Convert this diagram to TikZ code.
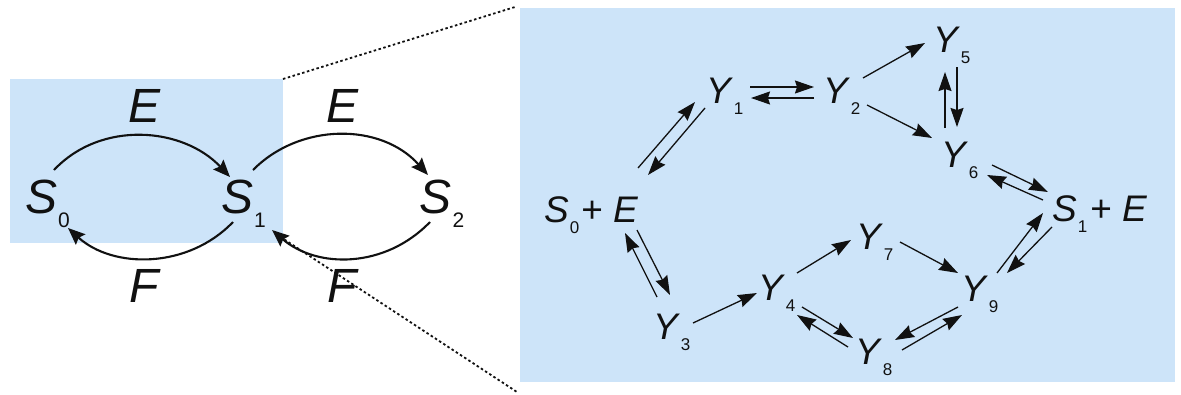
\documentclass[tikz,border=0pt]{standalone}
\usepackage{fontspec}
\setmainfont{Liberation Sans}
\usetikzlibrary{arrows.meta}
\definecolor{panel}{RGB}{205,228,249}
\definecolor{ink}{RGB}{17,17,17}
\newcommand\subL[1]{\kern1pt\raisebox{-14pt}{\fontsize{21}{21}\selectfont #1}}
\newcommand\subR[1]{\kern0.5pt\raisebox{-11pt}{\fontsize{17}{17}\selectfont #1}}
\tikzset{
  arr/.style={draw=ink, line width=1.3pt, -{Stealth[length=19pt,width=13pt,inset=2pt]}},
  larr/.style={draw=ink, line width=2.1pt, -{Stealth[length=17pt,width=14pt,inset=2.5pt]}},
  lab/.style={inner sep=0pt, text=ink, font=\fontsize{37}{37}\selectfont},
  llab/.style={inner sep=0pt, text=ink, font=\fontsize{48}{48}\selectfont},
  zoomline/.style={draw=ink, line width=1.8pt, dash pattern=on 2.5pt off 2.5pt},
}
\begin{document}
\begin{tikzpicture}[x=1pt,y=-1pt]
\useasboundingbox (0,0) rectangle (1181,394);
\fill[white] (0,0) rectangle (1181,394);
% panels
\fill[panel] (10,79) rectangle (283,243);
\fill[panel] (520,8) rectangle (1175,382);
% zoom lines
\draw[zoomline] (283,79) -- (515,7);
\draw[zoomline] (276,234) -- (517,392);
% left scheme
\node[llab] (S0) at (47.5,203.5) {\textit{S}\subL{0}};
\node[llab] (S1) at (243.5,203.5) {\textit{S}\subL{1}};
\node[llab] (S2) at (442,203.5) {\textit{S}\subL{2}};
\node[llab] (E1) at (145,106) {\textit{E}};
\node[llab] (E2) at (343,106) {\textit{E}};
\node[llab] (F1) at (145,286) {\textit{F}};
\node[llab] (F2) at (343,286) {\textit{F}};
\draw[larr] ([shift={(6.5,-33.5)}]S0.center) .. controls +(47,-50) and +(-47,-50) .. ([shift={(-13.5,-26.5)}]S1.center);
\draw[larr] ([shift={(-10.5,18.5)}]S1.center) .. controls +(-45,47) and +(45,41) .. ([shift={(20.5,24.5)}]S0.center);
\draw[larr] ([shift={(9.5,-33.5)}]S1.center) .. controls +(47,-47.5) and +(-47,-52.5) .. ([shift={(-14,-28.5)}]S2.center);
\draw[larr] ([shift={(-12,18.5)}]S2.center) .. controls +(-45,46.7) and +(45,38.7) .. ([shift={(28.5,26.5)}]S1.center);
% right scheme
\node[lab] (A) at (591.5,215.5) {\textit{S}\subR{0}\kern2pt+ \textit{E}};
\node[lab] (B) at (1100,214) {\textit{S}\subR{1}\kern3pt+ \textit{E}};
\node[lab] (Y1) at (725,96) {\textit{Y}\subR{1}};
\node[lab] (Y2) at (842,96) {\textit{Y}\subR{2}};
\node[lab] (Y3) at (672,332) {\textit{Y}\subR{3}};
\node[lab] (Y4) at (777,293) {\textit{Y}\subR{4}};
\node[lab] (Y5) at (952,45) {\textit{Y}\subR{5}};
\node[lab] (Y6) at (960,160) {\textit{Y}\subR{6}};
\node[lab] (Y7) at (875,242) {\textit{Y}\subR{7}};
\node[lab] (Y8) at (874,357) {\textit{Y}\subR{8}};
\node[lab] (Y9) at (980,294) {\textit{Y}\subR{9}};
% A <-> Y1
\draw[arr] ([shift={(46.5,-47.5)}]A.center) -- ([shift={(-30,6)}]Y1.center);
\draw[arr] ([shift={(-20,12)}]Y1.center) -- ([shift={(56.5,-40.5)}]A.center);
% A <-> Y3
\draw[arr] ([shift={(-15,-35)}]Y3.center) -- ([shift={(33.5,17.5)}]A.center);
\draw[arr] ([shift={(45.5,14.5)}]A.center) -- ([shift={(-2,-37)}]Y3.center);
% Y1 <-> Y2
\draw[arr] ([shift={(25,-9)}]Y1.center) -- ([shift={(-28,-9)}]Y2.center);
\draw[arr] ([shift={(-28,2)}]Y2.center) -- ([shift={(26,2)}]Y1.center);
% Y3 -> Y4 -> Y7
\draw[arr] ([shift={(21,-9)}]Y3.center) -- ([shift={(-20,0)}]Y4.center);
\draw[arr] ([shift={(20,-20)}]Y4.center) -- ([shift={(-24,-2)}]Y7.center);
% Y4 <-> Y8
\draw[arr] ([shift={(25,14)}]Y4.center) -- ([shift={(-21,-19)}]Y8.center);
\draw[arr] ([shift={(-26,-10)}]Y8.center) -- ([shift={(20,22)}]Y4.center);
% Y2 -> Y5, Y2 -> Y6
\draw[arr] ([shift={(21,-18)}]Y2.center) -- ([shift={(-27,-2)}]Y5.center);
\draw[arr] ([shift={(25,9)}]Y2.center) -- ([shift={(-28,-22)}]Y6.center);
% Y5 <-> Y6
\draw[arr] ([shift={(-15,-32)}]Y6.center) -- ([shift={(-7,27)}]Y5.center);
\draw[arr] ([shift={(5,22)}]Y5.center) -- ([shift={(-3,-33)}]Y6.center);
% Y6 <-> B
\draw[arr] ([shift={(32,5)}]Y6.center) -- ([shift={(-52,-22)}]B.center);
\draw[arr] ([shift={(-57,-14)}]B.center) -- ([shift={(27,15)}]Y6.center);
% Y9 <-> B
\draw[arr] ([shift={(17,-21)}]Y9.center) -- ([shift={(-57,-1)}]B.center);
\draw[arr] ([shift={(-48,13)}]B.center) -- ([shift={(27,-21)}]Y9.center);
% Y7 -> Y9
\draw[arr] ([shift={(25,0)}]Y7.center) -- ([shift={(-22,-21)}]Y9.center);
% Y9 <-> Y8
\draw[arr] ([shift={(-22,13)}]Y9.center) -- ([shift={(21,-17)}]Y8.center);
\draw[arr] ([shift={(28,-7)}]Y8.center) -- ([shift={(-18,21)}]Y9.center);
\end{tikzpicture}
\end{document}
